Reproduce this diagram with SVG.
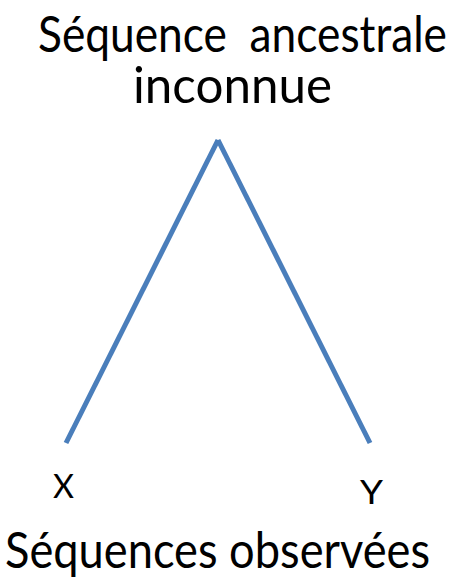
<svg xmlns="http://www.w3.org/2000/svg" width="454" height="586" viewBox="0 0 454 586">
<style>
text{font-family:Lato,"Open Sans","Liberation Sans",sans-serif;fill:#000;}
.big{font-size:50px;}
.lbl{font-size:32px;}
.edge{stroke:#4A7EBB;stroke-width:5;fill:none;}
</style>
<rect width="454" height="586" fill="#fff"/>
<g id="ancestor">
<text class="big" x="38" y="52" textLength="409" lengthAdjust="spacingAndGlyphs" xml:space="preserve">Séquence  ancestrale</text>
<text class="big" x="133" y="103" textLength="199" lengthAdjust="spacingAndGlyphs">inconnue</text>
</g>
<g id="connectors">
<line class="edge" x1="218" y1="140" x2="66" y2="443"/>
<line class="edge" x1="218" y1="140" x2="370" y2="443"/>
</g>
<g id="X"><text class="lbl" x="53" y="498" textLength="21" lengthAdjust="spacingAndGlyphs">X</text></g>
<g id="Y"><text class="lbl" x="360" y="504" textLength="23" lengthAdjust="spacingAndGlyphs">Y</text></g>
<g id="observed">
<text class="big" x="5" y="568" textLength="425" lengthAdjust="spacingAndGlyphs">Séquences observées</text>
</g>
</svg>
